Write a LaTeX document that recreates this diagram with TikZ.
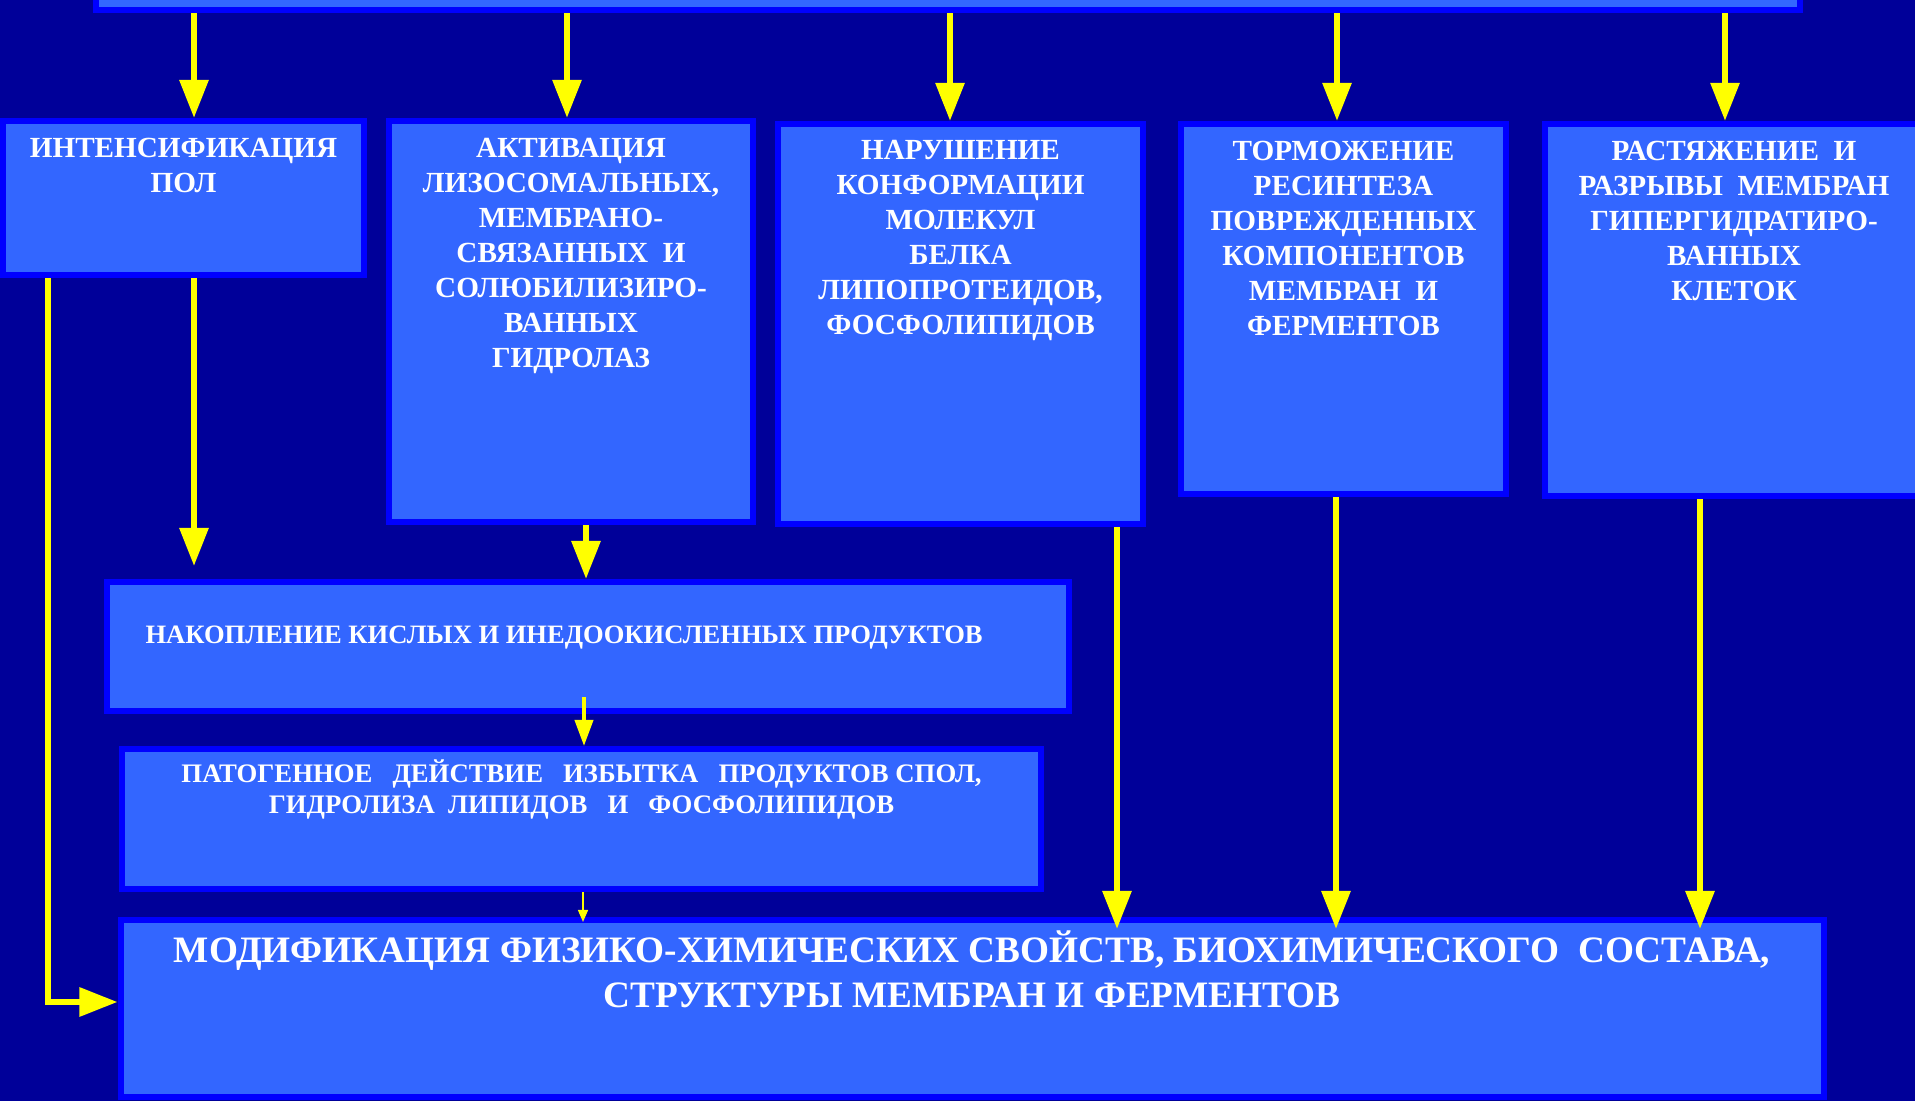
\documentclass[tikz,border=0pt]{standalone}
\usepackage{fontspec}
\setmainfont{Liberation Serif}
\usepackage{tikz}
\usetikzlibrary{arrows.meta}
\usetikzlibrary{calc}
\usetikzlibrary{positioning}
\definecolor{fond}{HTML}{000099}
\definecolor{kasten}{HTML}{3366FF}
\definecolor{rand}{HTML}{0000FF}
\definecolor{pfeil}{HTML}{FFFF00}
\newcommand{\schriftA}{\bfseries\fontsize{8.3}{9.96}\selectfont}
\newcommand{\schriftB}{\bfseries\fontsize{7.55}{8.8}\selectfont}
\newcommand{\schriftC}{\bfseries\fontsize{7.6}{8.8}\selectfont}
\newcommand{\schriftD}{\bfseries\fontsize{10.6}{12.8}\selectfont}

\begin{document}
\begin{tikzpicture}[
	x=0.01cm, y=-0.01cm,
	> = {Triangle[length=0.38cm,width=0.28cm]},
	box/.style = {draw=rand,fill=kasten,line width=0.06cm,inner sep=0pt},
	txt/.style = {text=white,align=center,inner sep=0pt,anchor=north},
	arrow/.style = {draw=pfeil,line width=0.06cm,->}
	]
	\path[use as bounding box] (0,0) rectangle (1915,1101);
	\clip (0,0) rectangle (1915,1101);
	\fill[fond] (0,0) rectangle (1915,1101);

	\node[box,minimum width=17.03cm,minimum height=0.70cm] (oben) at (947.5,-25) {};
	\node[box,minimum width=3.61cm,minimum height=1.54cm] (pol) at (183.5,198) {};
	\node[box,minimum width=3.64cm,minimum height=4.01cm] (akt) at (571,321.5) {};
	\node[box,minimum width=3.65cm,minimum height=4.00cm] (nar) at (960.5,324) {};
	\node[box,minimum width=3.25cm,minimum height=3.70cm] (tor) at (1343.5,309) {};
	\node[box,minimum width=3.85cm,minimum height=3.72cm] (ras) at (1737.5,310) {};
	\node[box,minimum width=9.62cm,minimum height=1.29cm] (nak) at (588,646.5) {};
	\node[box,minimum width=9.19cm,minimum height=1.40cm] (pat) at (581.5,819) {};
	\node[box,minimum width=17.02cm,minimum height=1.77cm] (mod) at (972,1008.5) {};

	\node[txt,font=\schriftA] (t-pol) at ([yshift=-3pt]pol.north) {\rule{0pt}{8pt}ИНТЕНСИФИКАЦИЯ\\ПОЛ};
	\node[txt,font=\schriftA] (t-akt) at ([yshift=-3pt]akt.north) {\rule{0pt}{8pt}АКТИВАЦИЯ\\ЛИЗОСОМАЛЬНЫХ,\\МЕМБРАНО-\\СВЯЗАННЫХ~~И\\СОЛЮБИЛИЗИРО-\\ВАННЫХ\\ГИДРОЛАЗ};
	\node[txt,font=\schriftA] (t-nar) at ([yshift=-2.8pt]nar.north) {\rule{0pt}{8pt}НАРУШЕНИЕ\\КОНФОРМАЦИИ\\МОЛЕКУЛ\\БЕЛКА\\ЛИПОПРОТЕИДОВ,\\ФОСФОЛИПИДОВ};
	\node[txt,font=\schriftA] (t-tor) at ([yshift=-3pt]tor.north) {\rule{0pt}{8pt}ТОРМОЖЕНИЕ\\РЕСИНТЕЗА\\ПОВРЕЖДЕННЫХ\\КОМПОНЕНТОВ\\МЕМБРАН~~И\\ФЕРМЕНТОВ};
	\node[txt,font=\schriftA] (t-ras) at ([xshift=-1pt,yshift=-3pt]ras.north) {\rule{0pt}{8pt}РАСТЯЖЕНИЕ~~И\\РАЗРЫВЫ~~МЕМБРАН\\ГИПЕРГИДРАТИРО-\\ВАННЫХ\\КЛЕТОК};
	\node[txt,font=\schriftB] (t-nak) at ([xshift=-6.8pt,yshift=-11.2pt]nak.north) {\rule{0pt}{7pt}НАКОПЛЕНИЕ КИСЛЫХ И ИНЕДООКИСЛЕННЫХ ПРОДУКТОВ};
	\node[txt,font=\schriftC] (t-pat) at ([yshift=-3.2pt]pat.north) {\rule{0pt}{7pt}ПАТОГЕННОЕ~~~ДЕЙСТВИЕ~~~ИЗБЫТКА~~~ПРОДУКТОВ СПОЛ,\\ГИДРОЛИЗА~~ЛИПИДОВ~~~И~~~ФОСФОЛИПИДОВ};
	\node[txt,font=\schriftD] (t-mod) at ([yshift=-2.8pt]mod.north) {\rule{0pt}{10pt}МОДИФИКАЦИЯ ФИЗИКО-ХИМИЧЕСКИХ СВОЙСТВ, БИОХИМИЧЕСКОГО~~СОСТАВА,\\СТРУКТУРЫ МЕМБРАН И ФЕРМЕНТОВ};

	\foreach \ziel/\x in {pol/194,akt/567,nar/950,tor/1337,ras/1725}
		\draw[arrow] (oben.south -| \x,0) -- (\ziel.north -| \x,0);

	\draw[arrow] (pol.south -| 48,0) |- (mod.west |- 0,1002);
	\draw[arrow,shorten >=0.13cm] (pol.south -| 194,0) -- (nak.north -| 194,0);
	\draw[arrow] (akt.south -| 586,0) -- (nak.north -| 586,0);
	\draw[draw=pfeil,line width=0.04cm,-{Triangle[length=0.26cm,width=0.18cm]}] ($(nak.south -| 584,0)+(0,-17)$) -- (pat.north -| 584,0);
	\draw[draw=pfeil,line width=0.015cm,-{Triangle[length=0.12cm,width=0.1cm]},shorten >=-0.05cm] (pat.south -| 583,0) -- (mod.north -| 583,0);

	\foreach \quelle/\x in {nar/1117,tor/1336,ras/1700}
		\draw[arrow,shorten >=-0.12cm] (\quelle.south -| \x,0) -- (mod.north -| \x,0);

\end{tikzpicture}
\end{document}
